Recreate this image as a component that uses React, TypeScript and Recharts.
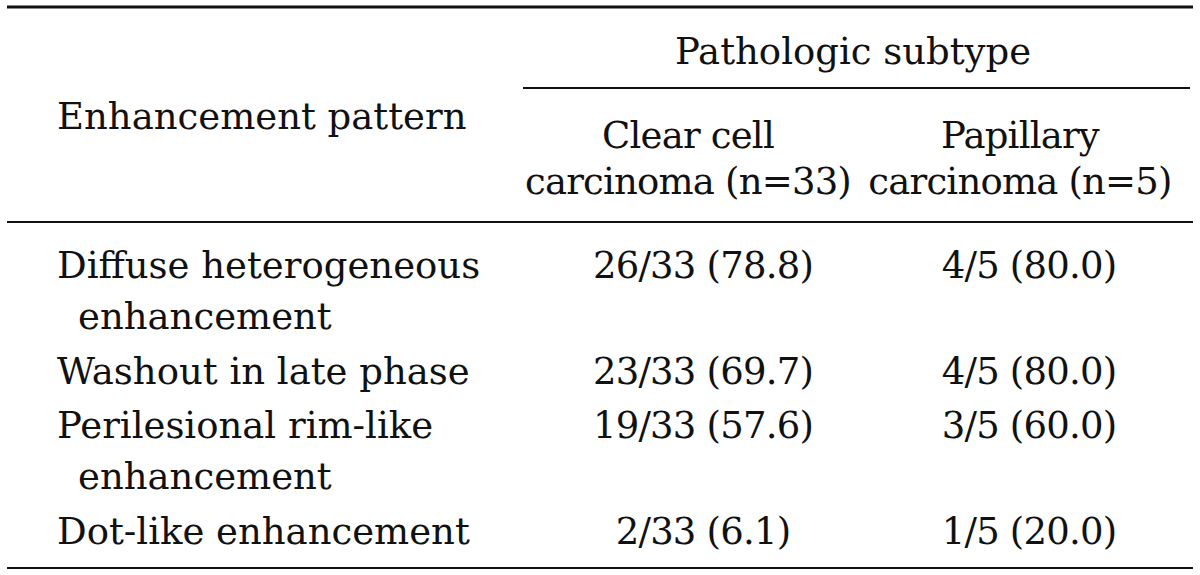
import { Surface, Layer, Text } from 'recharts';

const patternLines = [
  ['Diffuse heterogeneous', 'enhancement'],
  ['Washout in late phase'],
  ['Perilesional rim-like', 'enhancement'],
  ['Dot-like enhancement'],
];
const clearCell = ['26/33 (78.8)', '23/33 (69.7)', '19/33 (57.6)', '2/33 (6.1)'];
const papillary = ['4/5 (80.0)', '4/5 (80.0)', '3/5 (60.0)', '1/5 (20.0)'];
const groupTitle = 'Pathologic subtype';
const rowTitle = 'Enhancement pattern';
const colTitles = [
  ['Clear cell', 'carcinoma (n=33)'],
  ['Papillary', 'carcinoma (n=5)'],
];

const W = 1200;
const H = 575;
const INK = '#111';
const FONT = '"DejaVu Serif", serif';
const FS = 37;
const rowBaselines = [278, 384, 438, 544];
const wrapGap = 51;
const colCenters = [688, 1020];
const valueCenters = [703, 1029];

const txt = { fontFamily: FONT, fontSize: FS, fill: INK };
const tight = { ...txt, letterSpacing: -0.8 };

export default function App() {
  return (
    <div style={{ position: 'absolute', left: 0, top: 0, width: W, height: H, background: '#fff' }}>
      <Surface width={W} height={H}>
        <Layer>
          <line x1={7} x2={1193} y1={7} y2={7} stroke={INK} strokeWidth={3} />
          <line x1={523} x2={1190} y1={88} y2={88} stroke={INK} strokeWidth={2} />
          <line x1={7} x2={1193} y1={222} y2={222} stroke={INK} strokeWidth={2} />
          <line x1={7} x2={1193} y1={568} y2={568} stroke={INK} strokeWidth={2} />
        </Layer>
        <Layer>
          <Text x={853} y={64} textAnchor="middle" {...txt}>{groupTitle}</Text>
          <Text x={57} y={129} {...txt}>{rowTitle}</Text>
          {colTitles.map((lines, c) =>
            lines.map((t, i) => (
              <Text key={`h${c}-${i}`} x={colCenters[c]} y={148 + i * 46} textAnchor="middle" {...tight}>
                {t}
              </Text>
            )),
          )}
          {patternLines.map((lines, r) =>
            lines.map((t, i) => (
              <Text key={`p${r}-${i}`} x={i === 0 ? 57 : 78} y={rowBaselines[r] + i * wrapGap} {...txt}>
                {t}
              </Text>
            )),
          )}
          {clearCell.map((t, r) => (
            <Text key={`c${r}`} x={valueCenters[0]} y={rowBaselines[r]} textAnchor="middle" {...tight}>
              {t}
            </Text>
          ))}
          {papillary.map((t, r) => (
            <Text key={`q${r}`} x={valueCenters[1]} y={rowBaselines[r]} textAnchor="middle" {...tight}>
              {t}
            </Text>
          ))}
        </Layer>
      </Surface>
    </div>
  );
}
